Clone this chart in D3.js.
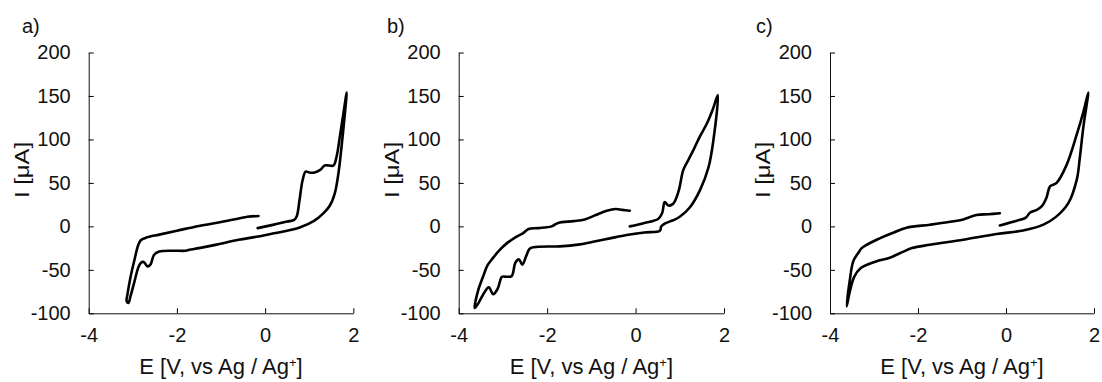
<!DOCTYPE html>
<html lang="en">
<head>
<meta charset="utf-8" />
<title>Cyclic voltammograms a-c</title>
<script src="https://d3js.org/d3.v7.min.js"></script>
<style>
  body { margin: 0; background: #fff; }
  text { font-family: Arial, "Liberation Sans", sans-serif; fill: #111; }
</style>
</head>
<body>
<div id="chart"></div>
<script>
// tick values / labels
const xTicks = [-4, -2, 0, 2];
const yTicks = [-100, -50, 0, 50, 100, 150, 200];
const panelNames = ["a)", "b)", "c)"];

// [E (V vs Ag/Ag+), I (uA)] in sweep order
const cvA = [
  [-0.17,-2],[0.2,2],[0.5,5.5],[0.66,7.5],[0.72,12],[0.78,30],[0.85,53],[0.92,63],[1.0,62],
  [1.12,62],[1.25,65],[1.35,70],[1.45,70],[1.55,70],[1.62,80],[1.70,105],[1.77,128],[1.85,154],
  [1.80,125],[1.73,90],[1.66,60],[1.58,38],[1.47,24],[1.32,15],[1.1,6],[0.8,-1],[0.5,-5],
  [0.2,-8],[-0.2,-12],[-0.6,-15.5],[-1.1,-21],[-1.5,-25],[-1.72,-27],[-1.8,-28],[-2.1,-28],
  [-2.4,-29],[-2.52,-33],[-2.6,-44],[-2.67,-46],[-2.75,-41],[-2.82,-42],[-2.88,-48],[-2.97,-65],
  [-3.05,-80],[-3.1,-88],[-3.14,-86],[-3.12,-78],[-3.05,-58],[-2.96,-38],[-2.88,-22],[-2.82,-16],
  [-2.7,-13],[-2.4,-9.5],[-2.0,-5],[-1.5,0.5],[-1.0,5],[-0.6,9],[-0.4,11],[-0.15,12]
];
const cvB = [
  [-0.13,0],[0.2,4],[0.51,8.5],[0.6,15],[0.66,28],[0.74,24],[0.85,26],[0.97,40],[1.08,65],
  [1.19,76],[1.31,88],[1.45,103],[1.61,118],[1.75,135],[1.86,151],
  [1.76,99],[1.65,68],[1.46,42],[1.23,22],[1.0,11],[0.85,7],[0.67,3.5],[0.58,0],[0.55,-5],
  [0.2,-7],[-0.2,-10],[-0.58,-13.8],[-0.96,-17.7],[-1.3,-21],[-1.71,-23],[-2.31,-24],[-2.4,-26],
  [-2.48,-35],[-2.56,-44],[-2.64,-38],[-2.72,-42],[-2.8,-57],[-2.92,-58],[-3.02,-58],[-3.12,-72],
  [-3.22,-78],[-3.32,-70],[-3.42,-76],[-3.55,-88],[-3.64,-94],
  [-3.55,-72],[-3.45,-58],[-3.35,-45],[-3.22,-36],[-3.05,-26],[-2.9,-19],[-2.7,-12],[-2.55,-8],
  [-2.42,-3],[-2.2,-2],[-1.9,0],[-1.75,4],[-1.4,6],[-1.15,8],[-0.9,13],[-0.65,18],[-0.45,20],
  [-0.3,19],[-0.13,18]
];
const cvC = [
  [-0.14,1],[0.32,7.6],[0.45,10],[0.55,16],[0.7,19],[0.81,23],[0.92,33],[1.0,46],[1.15,50],
  [1.38,71],[1.61,106],[1.75,130],[1.87,154],
  [1.76,115],[1.68,80],[1.61,54],[1.42,27],[1.15,11.5],[0.85,2],[0.39,-4.7],[-0.21,-8.8],
  [-0.97,-15.4],[-1.73,-21.2],[-2.14,-25],[-2.33,-29],[-2.64,-36],[-2.94,-40],[-3.1,-43],
  [-3.3,-48],[-3.45,-58],[-3.55,-75],[-3.62,-92],
  [-3.55,-62],[-3.47,-40],[-3.35,-30],[-3.28,-25],[-2.86,-13.5],[-2.55,-7],[-2.26,-1.5],
  [-1.73,1.9],[-1.3,5],[-0.97,8],[-0.67,13],[-0.4,14],[-0.14,15]
];

const panels = [
  {name: panelNames[0], data: cvA, x0: 88.7, x1: 353.3, labelX: 22},
  {name: panelNames[1], data: cvB, x0: 458.7, x1: 724, labelX: 387},
  {name: panelNames[2], data: cvC, x0: 830, x1: 1094, labelX: 756}
];
const yTop = 52.5, yBottom = 313.3;
const fontSize = 20;

const svg = d3.select("#chart")
  .append("svg")
    .attr("width", 1102)
    .attr("height", 382)
    .style("background", "#fff");

panels.forEach(function(p) {
  const x = d3.scaleLinear().domain([-4, 2]).range([p.x0, p.x1]);
  const y = d3.scaleLinear().domain([-100, 200]).range([yBottom, yTop]);
  const g = svg.append("g");

  // x axis, ticks pointing inward
  g.append("g")
    .attr("transform", `translate(0, ${yBottom})`)
    .call(d3.axisBottom(x).tickValues(xTicks).tickFormat(d => String(d))
      .tickSize(-5).tickSizeOuter(0).tickPadding(15))
    .call(ax => ax.selectAll("text").style("font-size", fontSize + "px").attr("font-family", null))
    .call(ax => ax.select(".domain").attr("stroke", "#111"));

  // y axis
  g.append("g")
    .attr("transform", `translate(${p.x0}, 0)`)
    .call(d3.axisLeft(y).tickValues(yTicks).tickFormat(d => String(d))
      .tickSize(-5).tickSizeOuter(0).tickPadding(18))
    .call(ax => ax.selectAll("text").style("font-size", fontSize + "px").attr("font-family", null))
    .call(ax => ax.select(".domain").attr("stroke", "#111"));

  // the voltammogram
  const line = d3.line()
    .x(d => x(d[0]))
    .y(d => y(d[1]))
    .curve(d3.curveCatmullRom.alpha(0.5));
  g.append("path")
    .datum(p.data)
    .attr("d", line)
    .attr("fill", "none")
    .attr("stroke", "#000")
    .attr("stroke-width", 2.6)
    .attr("stroke-linejoin", "round")
    .attr("stroke-linecap", "round");

  // panel letter
  g.append("text")
    .attr("x", p.labelX)
    .attr("y", 33)
    .style("font-size", fontSize + "px")
    .text(p.name);

  // y label
  g.append("text")
    .attr("transform", `translate(${p.x0 - 60}, 170) rotate(-90)`)
    .attr("text-anchor", "middle")
    .attr("textLength", 56)
    .attr("lengthAdjust", "spacingAndGlyphs")
    .style("font-size", "21px")
    .text("I [\u03bcA]");

  // x label
  const xl = g.append("text")
    .attr("x", (p.x0 + p.x1) / 2)
    .attr("y", 374)
    .attr("text-anchor", "middle")
    .style("font-size", "22px");
  xl.append("tspan").text("E [V, vs Ag / Ag");
  xl.append("tspan")
    .attr("dy", -7)
    .style("font-size", "13px")
    .text("+");
  xl.append("tspan")
    .attr("dy", 7)
    .text("]");
});
</script>
</body>
</html>
